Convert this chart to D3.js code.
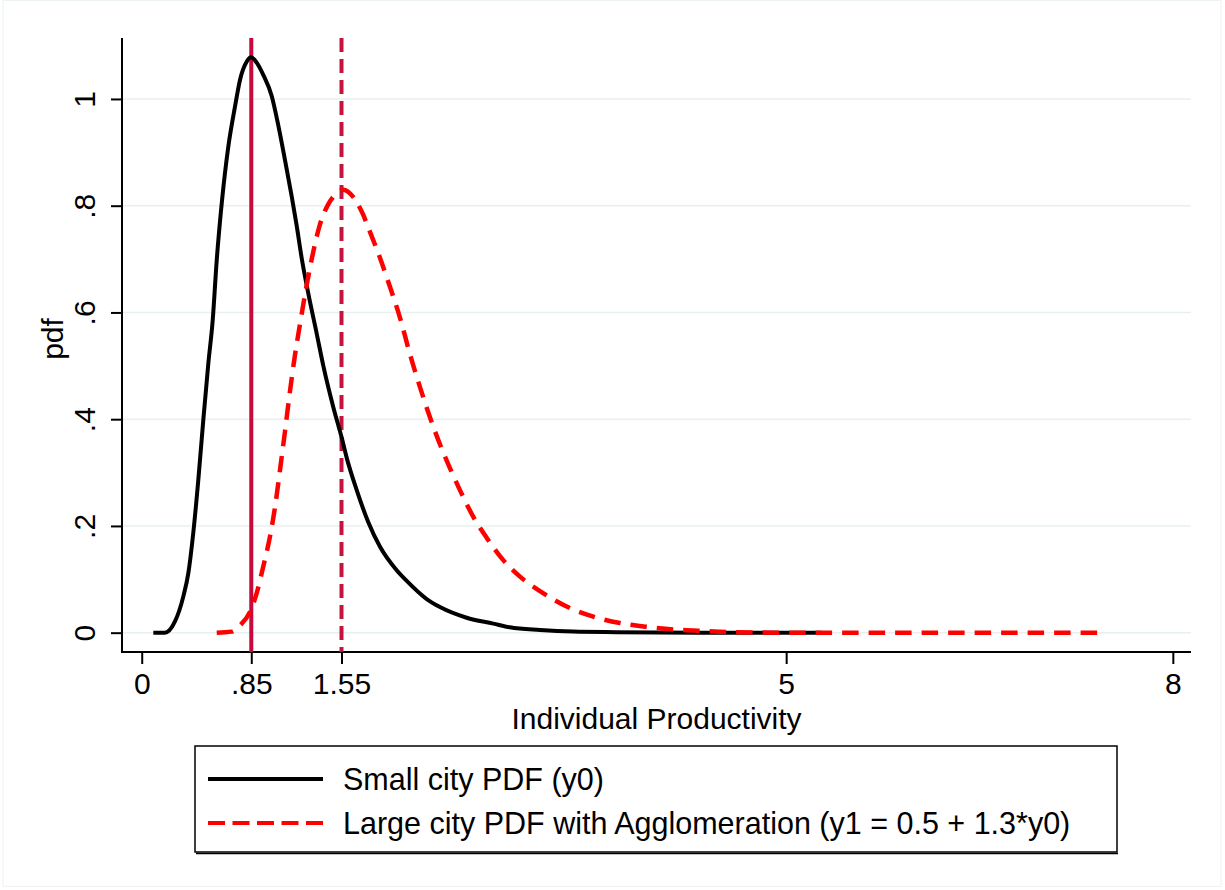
<!DOCTYPE html>
<html lang="en">
<head>
<meta charset="utf-8">
<title>pdf</title>
<style>
  body { margin: 0; background: #fff; }
  text { font-family: "Liberation Sans", Arial, sans-serif; fill: #000; }
  .grid line { stroke: #e8eff1; stroke-width: 1.5; }
</style>
</head>
<body>
<script src="https://cdn.jsdelivr.net/npm/d3@7"></script>
<script>

// small city pdf (y0)
var smallX = [0.09, 0.18, 0.258, 0.323, 0.362, 0.400, 0.439, 0.478, 0.517, 0.551, 0.582, 0.621, 0.672, 0.724, 0.763, 0.815, 0.848,
  0.892, 0.943, 1.009, 1.060, 1.112, 1.164, 1.202, 1.241, 1.292, 1.358, 1.409, 1.486, 1.552, 1.590, 1.668, 1.758, 1.849, 1.978,
  2.056, 2.211, 2.314, 2.521, 2.728, 2.857, 3.090, 3.348, 3.685, 4.33, 5.275];
var smallY = [0, 0, 0.021, 0.068, 0.112, 0.187, 0.286, 0.399, 0.505, 0.586, 0.698, 0.805, 0.911, 0.986, 1.036, 1.070, 1.078,
  1.068, 1.045, 1.005, 0.950, 0.885, 0.817, 0.763, 0.702, 0.636, 0.560, 0.500, 0.423, 0.365, 0.328, 0.267, 0.207, 0.161, 0.117,
  0.097, 0.063, 0.048, 0.028, 0.017, 0.010, 0.005, 0.002, 0.001, 0, 0];

// large city pdf (y1)
var largeX = [0.582, 0.698, 0.763, 0.840, 0.892, 0.943, 0.995, 1.034, 1.073, 1.112, 1.150, 1.189, 1.228, 1.267, 1.319, 1.383,
  1.448, 1.513, 1.564, 1.642, 1.707, 1.771, 1.849, 1.926, 2.004, 2.081, 2.159, 2.237, 2.327, 2.392, 2.469, 2.573, 2.676, 2.805,
  2.935, 3.090, 3.297, 3.504, 3.711, 3.918, 4.124, 4.383, 4.590, 5.1, 7.457];
var largeY = [0, 0.002, 0.014, 0.039, 0.074, 0.124, 0.180, 0.235, 0.305, 0.378, 0.452, 0.520, 0.578, 0.634, 0.700, 0.765,
  0.803, 0.823, 0.830, 0.816, 0.789, 0.751, 0.702, 0.648, 0.590, 0.522, 0.460, 0.403, 0.345, 0.308, 0.267, 0.217, 0.178, 0.136,
  0.105, 0.078, 0.049, 0.030, 0.018, 0.011, 0.006, 0.003, 0.001, 0, 0];

var xTicks = [0, 0.85, 1.55, 5, 8];
var xTickLabels = ["0", ".85", "1.55", "5", "8"];
var yTicks = [0, 0.2, 0.4, 0.6, 0.8, 1];
var yTickLabels = ["0", ".2", ".4", ".6", ".8", "1"];
var vLines = [0.85, 1.55];
var legendLabels = ["Small city PDF (y0)", "Large city PDF with Agglomeration (y1 = 0.5 + 1.3*y0)"];

var w = 1225, h = 890;
var gx0 = 122, gx1 = 1191, gy0 = 38, gy1 = 652; // plot region

var svg = d3.select("body").append("svg").attr("width", w).attr("height", h);

// faint outer frame
svg.append("rect").attr("x", 3).attr("y", 0.5).attr("width", 1218).attr("height", 886)
  .attr("fill", "none").attr("stroke", "#eef3f5").attr("stroke-width", 1);

var x = d3.scaleLinear().domain([-0.153, 8.141]).range([gx0, gx1]);
var y = d3.scaleLinear().domain([-0.0362, 1.1142]).range([gy1, gy0]);

// gridlines
svg.append("g").attr("class", "grid")
  .selectAll("line").data(yTicks).enter().append("line")
  .attr("x1", gx0).attr("x2", gx1)
  .attr("y1", function(d){ return y(d); }).attr("y2", function(d){ return y(d); });

// axes
var xAxis = d3.axisBottom(x).tickValues(xTicks).tickSize(12).tickPadding(8)
  .tickFormat(function(d, i){ return xTickLabels[i]; });
var gx = svg.append("g").attr("transform", "translate(0," + gy1 + ")").call(xAxis);
gx.select(".domain").remove();
gx.selectAll(".tick line").attr("stroke", "#000").attr("stroke-width", 2);
gx.selectAll(".tick text").attr("font-size", 30).attr("font-family", "Liberation Sans, Arial, sans-serif").attr("dy", "0.72em");

var yAxis = d3.axisLeft(y).tickValues(yTicks).tickSize(11)
  .tickFormat(function(d, i){ return yTickLabels[i]; });
var gy = svg.append("g").attr("transform", "translate(" + gx0 + ",0)").call(yAxis);
gy.select(".domain").remove();
gy.selectAll(".tick line").attr("stroke", "#000").attr("stroke-width", 2);
gy.selectAll(".tick text")
  .attr("font-size", 30).attr("font-family", "Liberation Sans, Arial, sans-serif")
  .attr("text-anchor", "middle").attr("dy", 0).attr("x", 0)
  .attr("transform", "translate(-27,0) rotate(-90)");

svg.append("line").attr("x1", gx0).attr("x2", gx0).attr("y1", gy0).attr("y2", gy1 + 1)
  .attr("stroke", "#000").attr("stroke-width", 2);
svg.append("line").attr("x1", gx0 - 1).attr("x2", gx1).attr("y1", gy1).attr("y2", gy1)
  .attr("stroke", "#000").attr("stroke-width", 2);

// axis titles
svg.append("text").attr("x", (gx0 + gx1) / 2).attr("y", 729).attr("text-anchor", "middle")
  .attr("font-size", 30).text("Individual Productivity");
svg.append("text").attr("transform", "translate(63,339) rotate(-90)").attr("text-anchor", "middle")
  .attr("font-size", 30).text("pdf");

// reference lines
svg.selectAll(".vline").data(vLines).enter().append("line")
  .attr("class", "vline")
  .attr("x1", function(d){ return x(d); }).attr("x2", function(d){ return x(d); })
  .attr("y1", gy0).attr("y2", gy1)
  .attr("stroke", function(d, i){ return i == 0 ? "#c8093b" : "#c2143f"; })
  .attr("stroke-width", 4)
  .attr("stroke-dasharray", function(d, i){ return i == 0 ? null : "14,7"; });

// curves
var line = d3.line()
  .x(function(d){ return x(d[0]); })
  .y(function(d){ return y(d[1]); })
  .curve(d3.curveMonotoneX);

var smallData = d3.zip(smallX, smallY);
var largeData = d3.zip(largeX, largeY);

svg.append("path").datum(smallData).attr("d", line)
  .attr("fill", "none").attr("stroke", "#000").attr("stroke-width", 4).attr("stroke-linejoin", "round");
svg.append("path").datum(largeData).attr("d", line)
  .attr("fill", "none").attr("stroke", "#ff0000").attr("stroke-width", 4.5).attr("stroke-dasharray", "16.5,10");

// legend
var lg = svg.append("g");
lg.append("rect").attr("x", 195).attr("y", 746).attr("width", 922).attr("height", 106)
  .attr("fill", "#fff").attr("stroke", "#000").attr("stroke-width", 1.5);
lg.append("line").attr("x1", 196).attr("x2", 1118).attr("y1", 853.5).attr("y2", 853.5)
  .attr("stroke", "#000").attr("stroke-width", 1.5);
var items = lg.selectAll(".item").data(legendLabels).enter().append("g")
  .attr("class", "item")
  .attr("transform", function(d, i){ return "translate(0," + (779 + i * 44) + ")"; });
items.append("line").attr("x1", 208).attr("x2", 323).attr("y1", 0).attr("y2", 0)
  .attr("stroke", function(d, i){ return i == 0 ? "#000" : "#ff0000"; })
  .attr("stroke-width", 4)
  .attr("stroke-dasharray", function(d, i){ return i == 0 ? null : "17,7.5"; });
items.append("text").attr("x", 343).attr("y", 0).attr("dy", "0.36em")
  .attr("font-size", 30.5).text(function(d){ return d; });

</script>
</body>
</html>
